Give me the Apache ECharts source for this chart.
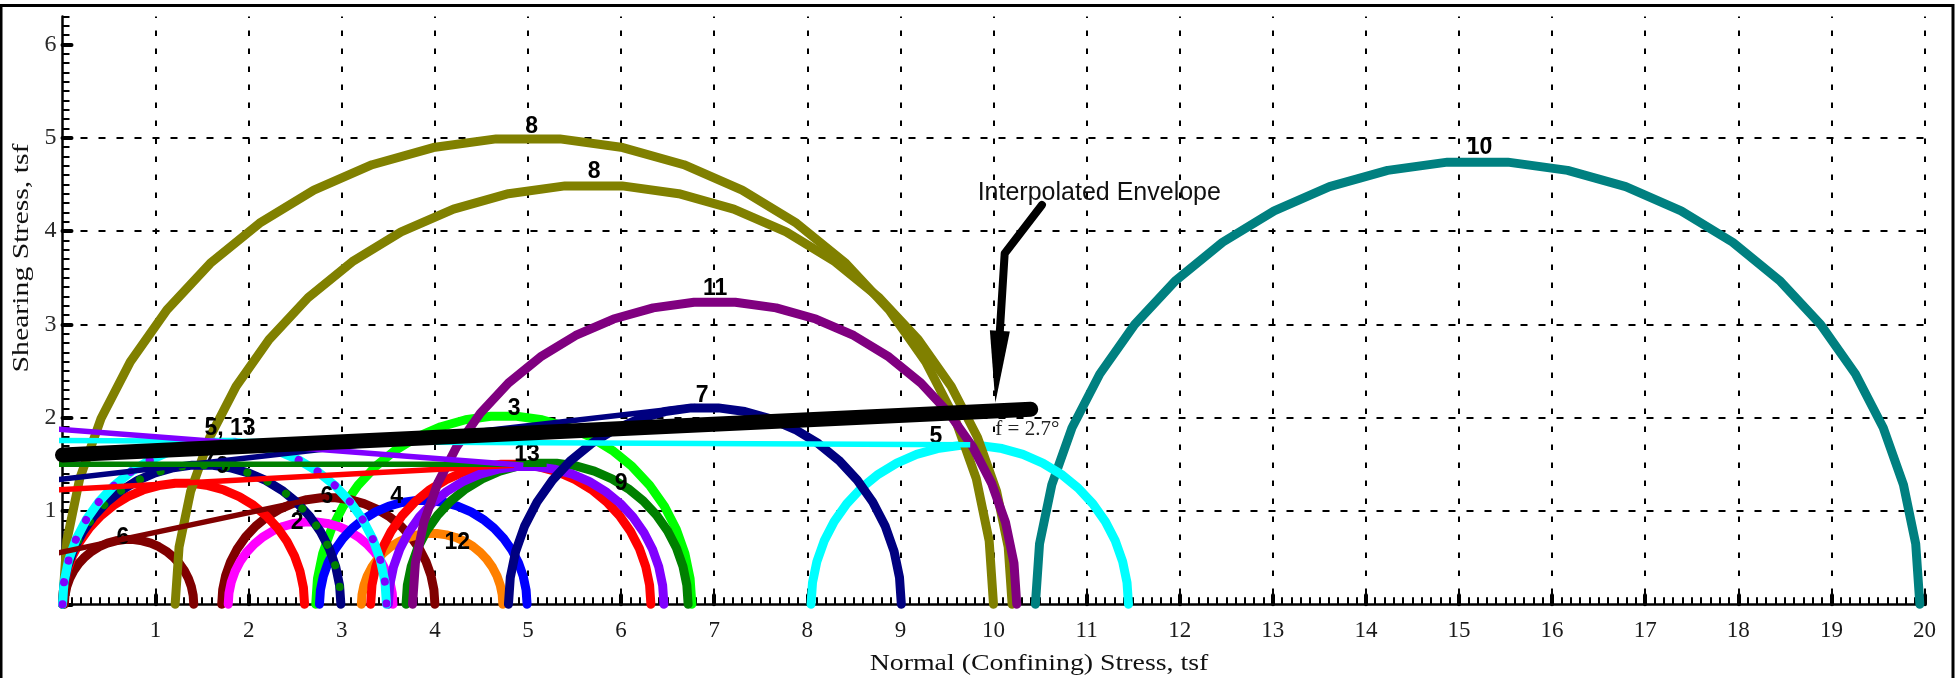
<!DOCTYPE html>
<html>
<head>
<meta charset="utf-8">
<script src="https://cdn.jsdelivr.net/npm/echarts@6/dist/echarts.min.js"></script>
<style>
  html, body { margin: 0; padding: 0; background: #fff; }
  #chart { width: 1960px; height: 678px; }
</style>
</head>
<body>
<div id="chart"></div>
<script>
// Mohr circles, one per specimen: minor (sigma3) and major (sigma1) principal stress, tsf.
// Listed in drawing order, bottom layer first.
const circleTest = ['10', '5', '3', '6', '6', '2', '1', '4', '12', '1', '9', '13', '8', '8', '11', '7', '7', '9', '5', '13'];
const sigma3 = [10.45, 8.04, 2.72, 1.71, 0.02, 1.78, 0.00, 2.76, 3.21, 3.31, 3.69, 3.50, 0.00, 1.21, 3.76, 4.79, 0.00, 0.00, 0.00, 0.00];
const sigma1 = [19.95, 11.45, 6.76, 4.00, 1.41, 3.55, 2.60, 4.99, 4.73, 6.32, 6.72, 6.46, 10.00, 10.20, 10.25, 9.01, 2.99, 2.99, 3.48, 3.48];

// Per-test strength lines: from the intercept to the crown of the test's largest circle
const testLineName = ['6', '1', '7', '9', '5', '13'];
const testLineX0 = [-0.1, -0.1, -0.1, -0.1, -0.1, -0.1];
const testLineY0 = [0.54, 1.225, 1.33, 1.50, 1.755, 1.88];
const testLineX1 = [2.84, 4.85, 6.80, 5.20, 9.75, 4.95];
const testLineY1 = [1.16, 1.49, 2.12, 1.50, 1.71, 1.49];

// Interpolated envelope: cohesion (tsf), friction angle (deg), last normal stress drawn
const envelopeC = 1.60;
const envelopePhi = 2.7;
const envelopeXEnd = 10.4;

// Test numbers written next to the circles
const labelText = ['8', '8', '11', '10', '7', '3', '13', '9', '4', '12', '6', '2', '6', '5, 13', '5', '7', '9'];
const labelX = [5.04, 5.71, 7.01, 15.22, 6.87, 4.85, 4.99, 6.00, 3.59, 4.24, 2.84, 2.52, 0.65, 1.80, 9.38, 1.58, 1.72];
const labelY = [5.12, 4.64, 3.38, 4.89, 2.24, 2.10, 1.605, 1.295, 1.153, 0.66, 1.153, 0.877, 0.716, 1.88, 1.796, 1.55, 1.47];

// Leader arrow pointing at the envelope, and its caption anchor
const arrowX = [10.52, 10.12, 10.02];
const arrowY = [4.28, 3.76, 2.16];
const captionAt = [9.83, 4.41];
const phiTextAt = [10.02, 1.87];

// Tick values
const xTicks = [1, 2, 3, 4, 5, 6, 7, 8, 9, 10, 11, 12, 13, 14, 15, 16, 17, 18, 19, 20];
const yTicks = [1, 2, 3, 4, 5, 6];
const yMajorTicks = [0, 1, 2, 3, 4, 5, 6];

// ---- styling ----
const circleColor = ['#008080', '#00FFFF', '#00FF00', '#800000', '#800000', '#FF00FF', '#FF0000', '#0000FF',
  '#FF8000', '#FF0000', '#008000', '#8000FF', '#808000', '#808000', '#800080', '#000080', '#000080',
  '#008000', '#00FFFF', '#8000FF'];
const circleDotted = circleColor.map((c, i) => i === 17 || i === 19);
const testLineColor = ['#800000', '#FF0000', '#000080', '#008000', '#00FFFF', '#8000FF'];
const ARC_SEGMENTS = 23;

const chart = echarts.init(document.getElementById('chart'), null, { renderer: 'canvas' });

const circleSeries = {
  type: 'custom',
  name: 'Mohr circles',
  z: 2,
  silent: true,
  data: sigma3.map((s, i) => [s, sigma1[i]]),
  encode: { x: [0, 1], y: 1 },
  renderItem: function (params, api) {
    const i = params.dataIndex;
    const a = api.value(0), b = api.value(1);
    const c = (a + b) / 2, r = (b - a) / 2;
    const ctr = api.coord([c, 0]);
    const edge = api.coord([b, 0]);
    const crown = api.coord([c, r]);
    const rx = edge[0] - ctr[0];
    const ry = ctr[1] - crown[1];
    const pts = [];
    for (let k = 0; k <= ARC_SEGMENTS; k++) {
      const t = Math.PI * k / ARC_SEGMENTS;
      pts.push([ctr[0] - rx * Math.cos(t), ctr[1] - ry * Math.sin(t)]);
    }
    const dotted = circleDotted[i];
    return {
      type: 'polyline',
      shape: { points: pts },
      style: {
        stroke: circleColor[i],
        fill: null,
        lineWidth: dotted ? 8 : 9,
        lineCap: 'round',
        lineJoin: 'round',
        lineDash: dotted ? [0.1, 22] : null
      }
    };
  }
};

const labelSeries = {
  type: 'custom',
  name: 'Test numbers',
  z: 2.5,
  silent: true,
  data: labelX.map((x, i) => [x, labelY[i]]),
  renderItem: function (params, api) {
    const p = api.coord([api.value(0), api.value(1)]);
    return {
      type: 'text',
      x: p[0], y: p[1],
      style: {
        text: labelText[params.dataIndex],
        font: 'bold 23px "Liberation Sans", Arial, sans-serif',
        fill: '#000',
        align: 'center',
        verticalAlign: 'middle'
      }
    };
  }
};

const testLineSeries = testLineName.map((name, i) => ({
  type: 'line',
  name: 'Test ' + name + ' line',
  z: 3,
  clip: false,
  silent: true,
  symbol: 'none',
  data: [[testLineX0[i], testLineY0[i]], [testLineX1[i], testLineY1[i]]],
  lineStyle: { color: testLineColor[i], width: 5.5, cap: 'butt' }
}));

const tanPhi = Math.tan(envelopePhi * Math.PI / 180);
const envelopeSeries = {
  type: 'line',
  name: 'Interpolated Envelope',
  z: 4,
  clip: false,
  silent: true,
  symbol: 'none',
  data: [[0, envelopeC], [envelopeXEnd, envelopeC + envelopeXEnd * tanPhi]],
  lineStyle: { color: '#000', width: 15, cap: 'round' }
};

const arrowSeries = {
  type: 'custom',
  name: 'Leader',
  z: 5,
  silent: true,
  data: [[arrowX[0], arrowY[0]]],
  renderItem: function (params, api) {
    const p = arrowX.map((x, i) => api.coord([x, arrowY[i]]));
    const p1 = p[1], tip = p[2];
    let dx = tip[0] - p1[0], dy = tip[1] - p1[1];
    const len = Math.hypot(dx, dy);
    dx /= len; dy /= len;
    const headLen = 72, half = 10;
    const base = [tip[0] - dx * headLen, tip[1] - dy * headLen];
    const nx = -dy, ny = dx;
    return {
      type: 'group',
      children: [
        {
          type: 'polyline',
          shape: { points: [p[0], p1, [base[0] + dx * 4, base[1] + dy * 4]] },
          style: { stroke: '#000', lineWidth: 8, fill: null, lineCap: 'round', lineJoin: 'round' }
        },
        {
          type: 'polygon',
          shape: { points: [tip, [base[0] + nx * half, base[1] + ny * half], [base[0] - nx * half, base[1] - ny * half]] },
          style: { fill: '#000' }
        }
      ]
    };
  }
};

const noteSeries = {
  type: 'custom',
  name: 'Notes',
  z: 6,
  silent: true,
  data: [captionAt, phiTextAt],
  renderItem: function (params, api) {
    const p = api.coord([api.value(0), api.value(1)]);
    const first = params.dataIndex === 0;
    return {
      type: 'text',
      x: p[0], y: p[1],
      style: first ? {
        text: 'Interpolated Envelope',
        font: '25px "Liberation Sans", Arial, sans-serif',
        fill: '#111',
        align: 'left',
        verticalAlign: 'middle'
      } : {
        text: 'f = ' + envelopePhi + '°',
        font: '21px "Liberation Serif", "Times New Roman", serif',
        fill: '#222',
        align: 'left',
        verticalAlign: 'middle'
      }
    };
  }
};

const option = {
  animation: false,
  backgroundColor: '#fff',
  grid: { left: 62.5, right: 35.5, top: 16.5, bottom: 73.7 },
  xAxis: {
    type: 'value',
    min: 0, max: 20, interval: 1,
    axisLine: { show: true, lineStyle: { color: '#000', width: 2.5 } },
    axisTick: { show: true, inside: true, length: 9, lineStyle: { color: '#000', width: 4, cap: 'round' } },
    minorTick: { show: true, splitNumber: 10, length: 7, lineStyle: { color: '#000', width: 2 } },
    axisLabel: {
      show: true,
      showMinLabel: false,
      margin: 15,
      color: '#1a1a1a',
      fontFamily: '"Liberation Serif", "Times New Roman", serif',
      fontSize: 23,
      formatter: v => (xTicks.indexOf(v) >= 0 ? String(v) : '')
    },
    splitLine: { show: true, showMinLine: false, lineStyle: { color: '#000', width: 2, type: [5.5, 12.5], dashOffset: 4 } }
  },
  yAxis: [
    {
      type: 'value',
      position: 'left',
      min: 0, max: 6.3, interval: 1,
      axisLine: { show: true, lineStyle: { color: '#000', width: 2.5 } },
      axisTick: { show: true, inside: true, length: 9, customValues: yMajorTicks, lineStyle: { color: '#000', width: 4, cap: 'round' } },
      axisLabel: {
        show: true,
        customValues: yTicks,
        margin: 6,
        color: '#2a2a2a',
        fontFamily: '"Liberation Serif", "Times New Roman", serif',
        fontSize: 24,
        formatter: v => (yTicks.indexOf(v) >= 0 ? String(v) : '')
      },
      splitLine: { show: true, showMinLine: false, showMaxLine: false, lineStyle: { color: '#000', width: 2, type: [7, 11] } }
    },
    {
      // tenth-of-a-ton minor ticks along the shear axis
      type: 'value',
      position: 'left',
      offset: 0,
      min: 0, max: 6.3, interval: 0.1,
      axisLine: { show: false },
      axisLabel: { show: false },
      splitLine: { show: false },
      axisTick: { show: true, inside: true, length: 7, lineStyle: { color: '#000', width: 2 } }
    }
  ],
  graphic: [
    {
      type: 'rect',
      shape: { x: 1, y: 5.5, width: 1952, height: 700 },
      style: { fill: null, stroke: '#000', lineWidth: 3 },
      silent: true, z: 100
    },
    {
      type: 'text',
      x: 1039, y: 664,
      scaleX: 1.16,
      style: {
        text: 'Normal (Confining) Stress, tsf',
        font: '24px "Liberation Serif", "Times New Roman", serif',
        fill: '#111',
        align: 'center',
        verticalAlign: 'middle'
      },
      silent: true
    },
    {
      type: 'text',
      x: 22, y: 258,
      rotation: Math.PI / 2,
      scaleX: 1.24,
      style: {
        text: 'Shearing Stress, tsf',
        font: '24px "Liberation Serif", "Times New Roman", serif',
        fill: '#111',
        align: 'center',
        verticalAlign: 'middle'
      },
      silent: true
    }
  ],
  series: [circleSeries, labelSeries].concat(testLineSeries, [envelopeSeries, arrowSeries, noteSeries])
};

chart.setOption(option);
</script>
</body>
</html>
